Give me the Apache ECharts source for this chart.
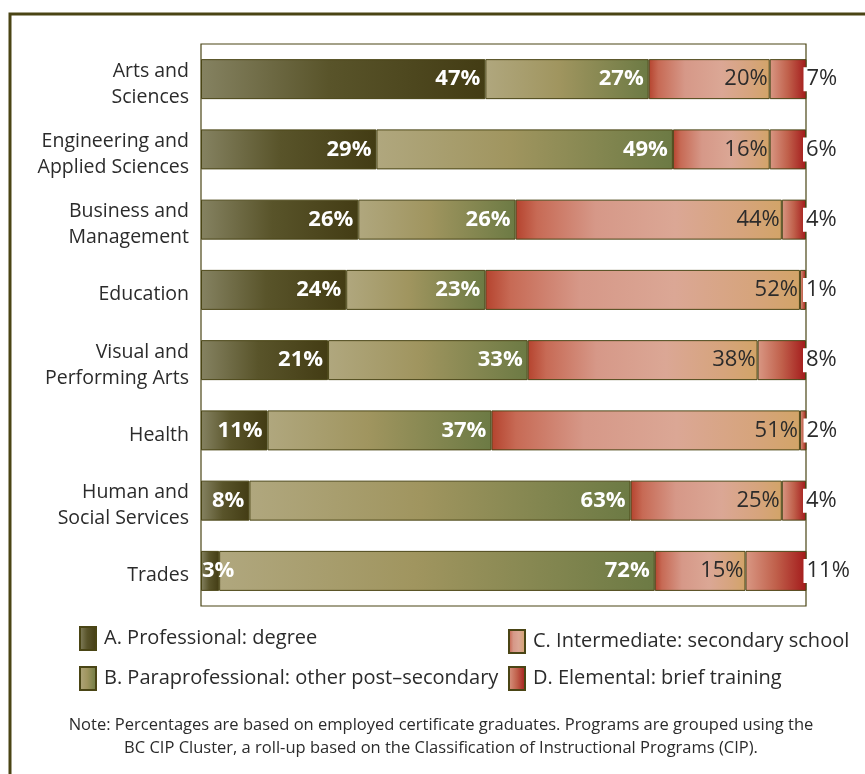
<!DOCTYPE html>
<html>
<head>
<meta charset="utf-8">
<script src="https://cdn.jsdelivr.net/npm/echarts@6/dist/echarts.min.js"></script>
<style>
  html, body { margin: 0; padding: 0; background: #fff; }
  #chart { width: 865px; height: 774px; }
</style>
</head>
<body>
<div id="chart"></div>
<script>
// Program clusters (top to bottom)
const categories = [
  'Arts and\nSciences',
  'Engineering and\nApplied Sciences',
  'Business and\nManagement',
  'Education',
  'Visual and\nPerforming Arts',
  'Health',
  'Human and\nSocial Services',
  'Trades'
];

// Share of employed certificate graduates by occupational skill level (%)
const professional     = [47, 29, 26, 24, 21, 11, 8, 3];
const paraprofessional = [27, 49, 26, 23, 33, 37, 63, 72];
const intermediate     = [20, 16, 44, 52, 38, 51, 25, 15];
const elemental        = [7, 6, 4, 1, 8, 2, 4, 11];

const seriesNames = [
  'A. Professional: degree',
  'B. Paraprofessional: other post\u2013secondary',
  'C. Intermediate: secondary school',
  'D. Elemental: brief training'
];

const FONT = '"Open Sans", "Noto Sans", sans-serif';
const EDGE = '#4a4515';
const INK = '#2b2b2b';

function grad(stops) {
  return new echarts.graphic.LinearGradient(0, 0, 1, 0,
    stops.map(s => ({ offset: s[0], color: s[1] })));
}

const fills = [
  grad([[0, '#858261'], [0.45, '#59542a'], [1, '#433c14']]),
  grad([[0, '#b0a77e'], [0.45, '#a0955f'], [1, '#6c7a44']]),
  grad([[0, '#b5432e'], [0.08, '#c76a55'], [0.3, '#d69888'], [0.6, '#dba795'], [0.85, '#d6a47c'], [1, '#d2a468']]),
  grad([[0, '#d99884'], [0.5, '#c0604b'], [1, '#a3191a']])
];

// Tiny segments get their label pinned to the bar start instead of the end
function segData(values, minFit) {
  return values.map(v => v < minFit
    ? { value: v, label: { position: 'insideLeft', distance: 1 } }
    : v);
}

const insideLabel = (color, weight, dist) => ({
  show: true,
  position: 'insideRight',
  distance: dist,
  formatter: '{c}%',
  color: color,
  fontFamily: FONT,
  fontSize: 22,
  fontWeight: weight
});

const series = [
  { data: segData(professional, 5), label: insideLabel('#fff', 'bold', 5) },
  { data: paraprofessional, label: insideLabel('#fff', 'bold', 5) },
  { data: intermediate, label: insideLabel(INK, 'normal', 2) },
  { data: elemental, label: {
      show: true, position: 'right', distance: 0, offset: [-3, 0],
      formatter: '{c}%', color: INK, fontFamily: FONT, fontSize: 22,
      backgroundColor: '#fff', padding: [1, 2, 1, 3]
    } }
].map((s, i) => Object.assign({
  name: seriesNames[i],
  type: 'bar',
  stack: 'total',
  barWidth: 40,
  itemStyle: { color: fills[i], borderColor: EDGE, borderWidth: 1 },
  emphasis: { disabled: true }
}, s));

const chart = echarts.init(document.getElementById('chart'), null, { renderer: 'canvas' });

const legendText = { color: INK, fontFamily: FONT, fontSize: 20, padding: [0, 0, 0, 3] };

chart.setOption({
  animation: false,
  backgroundColor: '#fff',
  grid: {
    left: 201, right: 59, top: 44, bottom: 168,
    show: true, borderColor: EDGE, borderWidth: 1.2, backgroundColor: 'transparent'
  },
  xAxis: {
    type: 'value', min: 0, max: 100,
    axisLabel: { show: false }, axisLine: { show: false },
    axisTick: { show: false }, splitLine: { show: false }
  },
  yAxis: {
    type: 'category', inverse: true, data: categories,
    axisLine: { show: false }, axisTick: { show: false },
    axisLabel: {
      margin: 12, align: 'right',
      // every line gets a little top room so the names sit slightly low
      formatter: v => v.split('\n').map(line => '{c|' + line + '}').join('\n'),
      rich: {
        c: {
          color: INK, fontFamily: FONT, fontSize: 19.5, lineHeight: 26,
          align: 'right', padding: [10, 0, 0, 0]
        }
      }
    }
  },
  legend: [
    {
      data: seriesNames.slice(0, 2), orient: 'vertical',
      left: 74, top: 621, itemWidth: 16, itemHeight: 23, itemGap: 15,
      icon: 'rect', selectedMode: false, textStyle: legendText
    },
    {
      data: seriesNames.slice(2, 4), orient: 'vertical',
      left: 503, top: 624, itemWidth: 16, itemHeight: 23, itemGap: 12,
      icon: 'rect', selectedMode: false, textStyle: legendText
    }
  ],
  graphic: [
    {
      type: 'rect', silent: true, z: 100,
      shape: { x: 10, y: 14, width: 900, height: 800 },
      style: { fill: null, stroke: '#4a4414', lineWidth: 3 }
    },
    {
      type: 'text', silent: true, x: 441, y: 714,
      style: {
        text: 'Note: Percentages are based on employed certificate graduates. Programs are grouped using the\nBC CIP Cluster, a roll-up based on the Classification of Instructional Programs (CIP).',
        fill: INK, font: '16.5px ' + FONT, lineHeight: 23, align: 'center'
      }
    }
  ],
  series: series
});
</script>
</body>
</html>
